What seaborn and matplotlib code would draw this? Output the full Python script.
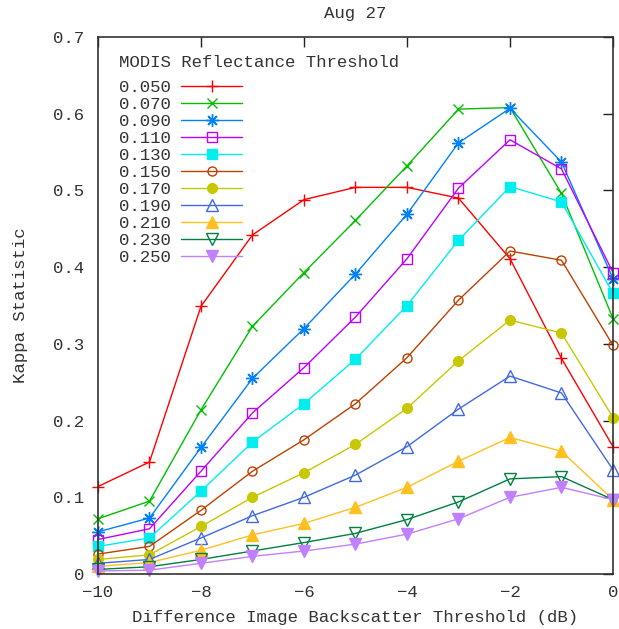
import numpy as np
import pandas as pd
import matplotlib
matplotlib.use("Agg")
import matplotlib.pyplot as plt
import seaborn as sns

# Backscatter thresholds (dB) on the x axis
thresholds_db = [-10, -9, -8, -7, -6, -5, -4, -3, -2, -1, 0]

# MODIS reflectance thresholds, one curve each
reflectance = ["0.050", "0.070", "0.090", "0.110", "0.130", "0.150",
               "0.170", "0.190", "0.210", "0.230", "0.250"]

kappa_050 = [0.114, 0.146, 0.349, 0.442, 0.488, 0.504, 0.504, 0.490, 0.411, 0.281, 0.166]
kappa_070 = [0.072, 0.095, 0.214, 0.323, 0.393, 0.461, 0.532, 0.606, 0.608, 0.496, 0.333]
kappa_090 = [0.055, 0.073, 0.165, 0.255, 0.320, 0.391, 0.469, 0.562, 0.607, 0.537, 0.385]
kappa_110 = [0.045, 0.059, 0.134, 0.210, 0.269, 0.335, 0.411, 0.503, 0.566, 0.528, 0.393]
kappa_130 = [0.036, 0.047, 0.108, 0.172, 0.222, 0.280, 0.350, 0.435, 0.505, 0.485, 0.366]
kappa_150 = [0.026, 0.036, 0.083, 0.134, 0.175, 0.222, 0.282, 0.357, 0.421, 0.409, 0.298]
kappa_170 = [0.019, 0.025, 0.062, 0.100, 0.132, 0.169, 0.216, 0.278, 0.331, 0.314, 0.204]
kappa_190 = [0.014, 0.019, 0.047, 0.076, 0.100, 0.129, 0.166, 0.215, 0.258, 0.236, 0.136]
kappa_210 = [0.010, 0.015, 0.031, 0.051, 0.066, 0.087, 0.113, 0.147, 0.178, 0.160, 0.097]
kappa_230 = [0.006, 0.0095, 0.019, 0.030, 0.041, 0.053, 0.071, 0.094, 0.124, 0.127, 0.097]
kappa_250 = [0.004, 0.005, 0.014, 0.023, 0.030, 0.039, 0.052, 0.072, 0.100, 0.113, 0.097]

kappa_series = [kappa_050, kappa_070, kappa_090, kappa_110, kappa_130, kappa_150,
                kappa_170, kappa_190, kappa_210, kappa_230, kappa_250]

y_ticks = [0, 0.1, 0.2, 0.3, 0.4, 0.5, 0.6, 0.7]
y_tick_labels = ["0", "0.1", "0.2", "0.3", "0.4", "0.5", "0.6", "0.7"]
x_ticks = [-10, -8, -6, -4, -2, 0]

# gnuplot-like line colours and point types
colors = ["#ff0000", "#00c000", "#0080ff", "#c000ff", "#00eeee", "#c04000",
          "#c8c800", "#4169e1", "#ffc020", "#008040", "#c080ff"]
asterisk = (8, 2, 0)
styles = [
    dict(marker="+", fill=True, ms=9),
    dict(marker="x", fill=True, ms=7),
    dict(marker=asterisk, fill=True, ms=9),
    dict(marker="s", fill=False, ms=7),
    dict(marker="s", fill=True, ms=7),
    dict(marker="o", fill=False, ms=6.5),
    dict(marker="o", fill=True, ms=7),
    dict(marker="^", fill=False, ms=8),
    dict(marker="^", fill=True, ms=8),
    dict(marker="v", fill=False, ms=8),
    dict(marker="v", fill=True, ms=8),
]

sns.set_style("white")
plt.rcParams["font.family"] = ["Liberation Mono", "DejaVu Sans Mono"]
plt.rcParams["axes.unicode_minus"] = True

fig = plt.figure(figsize=(6.19, 6.29), dpi=100)
ax = fig.add_axes([0.1583, 0.0874, 0.8320, 0.8538])

frames = []
for lab, vals in zip(reflectance, kappa_series):
    frames.append(pd.DataFrame({"db": thresholds_db, "kappa": vals, "refl": lab}))
df = pd.concat(frames, ignore_index=True)

for lab, col, st in zip(reflectance, colors, styles):
    sub = df[df["refl"] == lab]
    sns.lineplot(data=sub, x="db", y="kappa", ax=ax, color=col, lw=1.0,
                 marker=st["marker"], markersize=st["ms"],
                 markerfacecolor=col if st["fill"] else "none",
                 markeredgecolor=col, markeredgewidth=1.0,
                 label=lab, clip_on=False, estimator=None, sort=False)

ax.set_xlim(-10, 0)
ax.set_ylim(0, 0.7)
ax.set_xticks(x_ticks)
ax.set_yticks(y_ticks)
ax.set_yticklabels(y_tick_labels)
ax.tick_params(direction="in", length=7, width=1, top=True, right=True,
               labelsize=12.5, colors="#222222", labelcolor="#333333")
ax.tick_params(axis="y", pad=10)
ax.tick_params(axis="x", pad=8)
for sp in ax.spines.values():
    sp.set_color("#333333")
    sp.set_linewidth(1.2)
    sp.set_visible(True)

ax.set_xlabel("Difference Image Backscatter Threshold (dB)", fontsize=12.5,
              color="#333333", labelpad=7)
ax.set_ylabel("Kappa Statistic", fontsize=12.5, color="#333333", labelpad=18)
ax.set_title("Aug 27", fontsize=12.5, color="#333333", pad=14)

handles, labels = ax.get_legend_handles_labels()
leg = ax.legend(handles, labels, title="MODIS Reflectance Threshold",
                loc="upper left", bbox_to_anchor=(0.0205, 0.9866),
                frameon=False, markerfirst=False,
                fontsize=12.5, title_fontsize=12.5, handlelength=3.5,
                handletextpad=0.6, labelspacing=0.11, borderaxespad=0.0,
                alignment="left", borderpad=0.6)
# extra gap between the legend title and its first entry
leg._legend_box.sep = 7.2
for t in leg.get_texts():
    t.set_color("#333333")
leg.get_title().set_color("#333333")

fig.savefig("out.png", dpi=100)
